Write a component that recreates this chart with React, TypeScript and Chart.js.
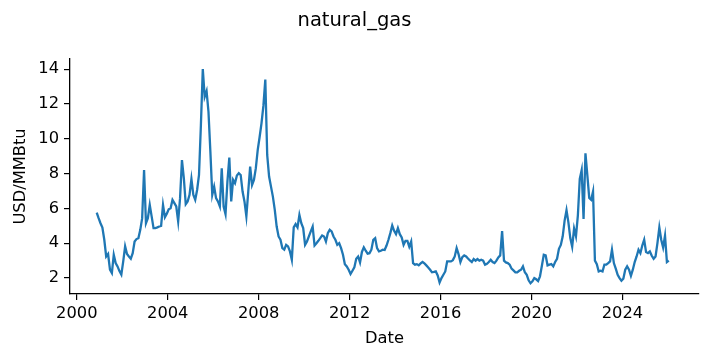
import React, { useEffect, useRef } from "react";
import { Chart, registerables } from "chart.js";

Chart.register(...registerables);

const TITLE = "natural_gas";
const X_LABEL = "Date";
const Y_LABEL = "USD/MMBtu";

// Monthly series, first observation mid-Nov 2000
const START_X = 2000 + 10.5 / 12;

const prices: number[] = [
  5.76, 5.44, 5.15, 4.9, 4.2, 3.24, 3.38, 2.48, 2.29, 3.34,
  2.86, 2.67, 2.4, 2.2, 2.96, 3.82, 3.38, 3.24, 3.11, 3.43,
  4.1, 4.24, 4.29, 4.77, 5.44, 8.21, 5.15, 5.44, 6.2, 5.54,
  4.87, 4.87, 4.91, 4.96, 5.0, 6.2, 5.5, 5.7, 5.95, 6.01,
  6.49, 6.3, 6.11, 5.25, 6.59, 8.78, 7.73, 6.24, 6.4, 6.78,
  7.69, 6.78, 6.49, 7.06, 7.92, 10.79, 14.0, 12.41, 12.74, 11.55,
  9.26, 6.78, 7.25, 6.59, 6.4, 6.11, 8.31, 6.11, 5.67, 7.54,
  8.92, 6.4, 7.64, 7.45, 7.89, 8.02, 7.92, 6.97, 6.4, 5.54,
  6.97, 8.4, 7.35, 7.64, 8.31, 9.36, 10.1, 10.9, 11.9, 13.4,
  9.07, 7.83, 7.25, 6.68, 5.92, 4.96, 4.39, 4.2, 3.72, 3.63,
  3.91, 3.82, 3.53, 3.05, 4.91, 5.1, 4.91, 5.63, 5.15, 4.87,
  3.91, 4.1, 4.39, 4.68, 4.96, 3.87, 4.0, 4.14, 4.29, 4.45,
  4.39, 4.1, 4.58, 4.77, 4.68, 4.39, 4.2, 3.91, 4.0, 3.72,
  3.34, 2.8, 2.67, 2.48, 2.23, 2.42, 2.61, 3.11, 3.24, 2.9,
  3.5, 3.76, 3.57, 3.4, 3.43, 3.63, 4.2, 4.29, 3.72, 3.53,
  3.57, 3.63, 3.61, 3.87, 4.2, 4.58, 5.02, 4.71, 4.52, 4.87,
  4.52, 4.33, 3.91, 4.14, 4.14, 3.8, 4.1, 2.86, 2.77, 2.8,
  2.73, 2.84, 2.92, 2.84, 2.73, 2.61, 2.48, 2.33, 2.35, 2.38,
  2.15, 1.75, 2.0, 2.19, 2.38, 2.96, 2.96, 2.96, 3.03, 3.24,
  3.72, 3.38, 2.92, 3.2, 3.3, 3.24, 3.12, 3.01, 2.92, 3.09,
  3.0, 3.09, 3.0, 3.05, 3.0, 2.77, 2.82, 2.92, 3.05, 2.92,
  2.86, 3.0, 3.19, 3.3, 4.7, 3.0, 2.9, 2.86, 2.77, 2.54,
  2.44, 2.33, 2.33, 2.42, 2.48, 2.67, 2.33, 2.19, 1.87, 1.7,
  1.81, 2.0, 1.93, 1.83, 2.1, 2.71, 3.34, 3.3, 2.73, 2.77,
  2.8, 2.67, 2.92, 3.11, 3.68, 3.9, 4.4, 5.3, 5.9, 5.2,
  4.3, 3.8, 4.85, 4.4, 5.6, 7.7, 8.2, 5.4, 9.16, 7.9,
  6.6, 6.5, 6.97, 3.0, 2.8, 2.38, 2.42, 2.38, 2.77, 2.77,
  2.86, 2.96, 3.63, 2.86, 2.54, 2.19, 2.0, 1.85, 1.96, 2.48,
  2.67, 2.48, 2.13, 2.48, 2.92, 3.24, 3.63, 3.43, 3.87, 4.2,
  3.49, 3.43, 3.53, 3.28, 3.11, 3.24, 4.01, 4.91, 4.2, 3.76,
  4.43, 2.92, 3.0,
];

const xTicks = [2000, 2004, 2008, 2012, 2016, 2020, 2024];
const yTicks = [2, 4, 6, 8, 10, 12, 14];

const FONT = '"DejaVu Sans", sans-serif';

export default function App() {
  const ref = useRef<HTMLCanvasElement | null>(null);

  useEffect(() => {
    document.body.style.margin = "0";
    const canvas = ref.current;
    if (!canvas) return;

    const points = prices.map((v, i) => ({ x: START_X + i / 12, y: v }));

    const textPlugin = {
      id: "texts",
      afterDraw(chart: any) {
        const ctx = chart.ctx;
        ctx.save();
        ctx.fillStyle = "#000";
        ctx.textAlign = "center";
        ctx.textBaseline = "middle";
        ctx.font = `19.5px ${FONT}`;
        ctx.fillText(TITLE, 354.5, 21);
        ctx.font = `16.3px ${FONT}`;
        const ca = chart.chartArea;
        ctx.fillText(X_LABEL, (ca.left + ca.right) / 2, 339);
        ctx.translate(21, (ca.top + ca.bottom) / 2);
        ctx.rotate(-Math.PI / 2);
        ctx.fillText(Y_LABEL, 0, 0);
        ctx.restore();
      },
    };

    const chart = new Chart(canvas, {
      type: "line",
      data: {
        datasets: [
          {
            label: TITLE,
            data: points,
            borderColor: "#1f77b4",
            borderWidth: 2.3,
            pointRadius: 0,
            tension: 0,
            fill: false,
          },
        ],
      },
      options: {
        animation: false,
        responsive: false,
        devicePixelRatio: 1,
        layout: { padding: { left: 0, right: 10, top: 59, bottom: 0 } },
        plugins: {
          legend: { display: false },
          title: { display: false },
          tooltip: { enabled: false },
        },
        scales: {
          x: {
            type: "linear",
            min: 1999.7,
            max: 2027.37,
            afterBuildTicks: (scale: any) => {
              scale.ticks = xTicks.map((v) => ({ value: v }));
            },
            afterFit: (scale: any) => {
              scale.height = 67;
            },
            ticks: {
              autoSkip: false,
              maxRotation: 0,
              padding: 4,
              color: "#000",
              font: { family: FONT, size: 16.3 },
              callback: (v: any) => String(v),
            },
            grid: {
              drawOnChartArea: false,
              drawTicks: true,
              tickLength: 6,
              color: "#000",
              lineWidth: 1.2,
            },
            border: { display: true, color: "#000", width: 1.3 },
          },
          y: {
            type: "linear",
            min: 1.085,
            max: 14.58,
            afterBuildTicks: (scale: any) => {
              scale.ticks = yTicks.map((v) => ({ value: v }));
            },
            afterFit: (scale: any) => {
              scale.width = 70;
            },
            ticks: {
              autoSkip: false,
              padding: 5,
              color: "#000",
              font: { family: FONT, size: 16.3 },
              callback: (v: any) => String(v),
            },
            grid: {
              drawOnChartArea: false,
              drawTicks: true,
              tickLength: 6,
              color: "#000",
              lineWidth: 1.2,
            },
            border: { display: true, color: "#000", width: 1.3 },
          },
        },
      },
      plugins: [textPlugin],
    });

    return () => chart.destroy();
  }, []);

  return (
    <div style={{ width: 709, height: 361 }}>
      <canvas ref={ref} width={709} height={361} style={{ display: "block" }} />
    </div>
  );
}
